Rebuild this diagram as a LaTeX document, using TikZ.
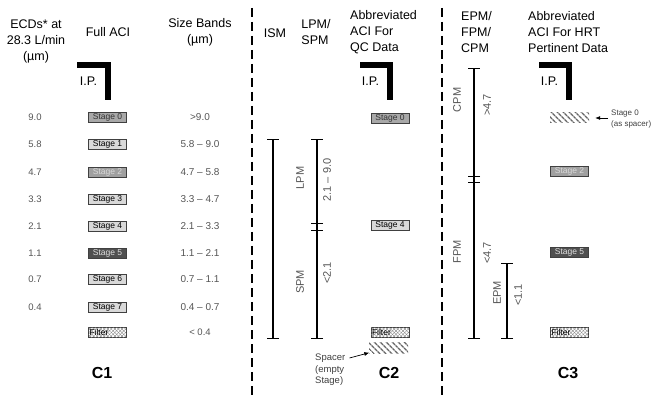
\documentclass[tikz,border=0pt]{standalone}
\usepackage{fontspec}
\setmainfont{Liberation Sans}
\usepackage{tikz}
\usetikzlibrary{arrows.meta,patterns.meta}
\definecolor{stzero}{HTML}{A8A8A8}
\definecolor{stpale}{HTML}{D9D9D9}
\definecolor{stmid}{HTML}{A0A0A0}
\definecolor{stdark}{HTML}{505050}
\definecolor{txtgray}{HTML}{555555}

\tikzset{
  hdr/.style={align=left,inner sep=0pt,font=\fontsize{12.5}{16}\selectfont},
  val/.style={text=txtgray,inner sep=0pt,font=\fontsize{9.5}{11}\selectfont},
  stagebox/.style={draw=black!75,line width=0.6pt,minimum width=38pt,minimum height=10pt,
    inner sep=0pt,font=\fontsize{8.5}{9}\selectfont},
  stagezero/.style={fill=stzero,text=black!80},
  stagepale/.style={fill=stpale,text=black},
  stagemid/.style={fill=stmid,text=black!15},
  stagedark/.style={fill=stdark,text=black!12},
  filterbox/.style={stagebox,text width=36pt,align=left,
    preaction={fill=white},pattern={Lines[angle=45,distance=2.5pt,line width=0.35pt]},pattern color=gray,
    postaction={pattern={Lines[angle=-45,distance=2.5pt,line width=0.35pt]},pattern color=gray}},
  spacerbox/.style={minimum width=39pt,minimum height=11pt,inner sep=0pt,
    pattern={Lines[angle=-45,distance=4pt,line width=1.4pt]},pattern color=black!60},
  ipbar/.style={line width=6pt,miter limit=10},
  iptext/.style={inner sep=0pt,font=\fontsize{12.5}{14}\selectfont},
  bar/.style={line width=2pt,arrows={Bar[width=12pt,line width=1.2pt]-Bar[width=12pt,line width=1.2pt]}},
  barlbl/.style={rotate=90,text=txtgray,inner sep=0pt,font=\fontsize{11}{13}\selectfont},
  divider/.style={line width=1.4pt,dash pattern=on 9pt off 5pt},
  collbl/.style={inner sep=0pt,font=\fontsize{16}{18}\bfseries\selectfont},
  note/.style={align=left,text=black!75,inner sep=0pt},
  ptr/.style={->,line width=0.7pt,>={Latex[length=5pt,width=4pt]}},
}

\begin{document}
\begin{tikzpicture}[x=1pt,y=-1pt]
\useasboundingbox (0,0) rectangle (656,398);

% column headings
\node[hdr,align=center] (ecdhdr) at (36,41) {ECDs* at\\28.3 L/min\\(µm)};
\node[hdr] (fullhdr) at (108,32) {Full ACI};
\node[hdr,align=center] (bandhdr) at (200,32) {Size Bands\\(µm)};
\node[hdr] (ismhdr) at (275,33) {ISM};
\node[hdr] (lpmhdr) at (316,32) {LPM/\\SPM};
\node[hdr,anchor=west] (qchdr) at (350,32) {Abbreviated\\ACI For\\QC Data};
\node[hdr,anchor=west] (pmhdr) at (461,32) {EPM/\\FPM/\\CPM};
\node[hdr,anchor=west] (hrthdr) at (528,32) {Abbreviated\\ACI For HRT\\Pertinent Data};

% dividers
\draw[divider] (252,8) -- (252,398);
\draw[divider] (442,8) -- (442,398);

% impactor inlets
\foreach \xl/\xr/\n in {77/107.5/1, 360/389.5/2, 539/568.5/3}{
  \draw[ipbar] (\xl,65.5) -- (\xr,65.5) -- (\xr,100);
  \node[iptext] (ip\n) at (\xr-19,81) {I.P.};
}

% C1: full impactor
\foreach \y/\ecd/\st/\band/\look in {
  117/9.0/0/{>9.0}/stagezero,
  144/5.8/1/{5.8 – 9.0}/stagepale,
  172/4.7/2/{4.7 – 5.8}/stagemid,
  199/3.3/3/{3.3 – 4.7}/stagepale,
  226/2.1/4/{2.1 – 3.3}/stagepale,
  253/1.1/5/{1.1 – 2.1}/stagedark,
  279/0.7/6/{0.7 – 1.1}/stagepale,
  307/0.4/7/{0.4 – 0.7}/stagepale}{
  \node[val] (ecd\st) at (35,\y) {\ecd};
  \node[stagebox,\look] (full\st) at (107.5,\y) {Stage \st};
  \node[val,font=\fontsize{10}{11}\selectfont] (band\st) at (200,\y) {\band};
}
\node[filterbox] (fullF) at (107.5,332) {Filter};
\node[val] (bandF) at (200,332) {< 0.4};
\node[collbl] (c1) at (102,373) {C1};

% C2: abbreviated for QC
\coordinate (ismtop) at (273,139);
\coordinate (ismbot) at (273,339);
\coordinate (lpmtop) at (317,139);
\coordinate (lpmbot) at (317,224);
\coordinate (spmtop) at (317,230);
\coordinate (spmbot) at (317,339);
\draw[bar] (ismtop) -- (ismbot);
\draw[bar] (lpmtop) -- (lpmbot);
\draw[line width=2pt] (lpmbot) -- (spmtop);
\draw[bar] (spmtop) -- (spmbot);
\node[barlbl] (lpm) at (300,178) {LPM};
\node[barlbl] (lpmrng) at (327,180) {2.1 – 9.0};
\node[barlbl] (spm) at (300,282) {SPM};
\node[barlbl] (spmrng) at (327,273) {<2.1};

\node[stagebox,stagezero] (qc0) at (390,118.5) {Stage 0};
\node[stagebox,stagepale] (qc4) at (390,225) {Stage 4};
\node[filterbox] (qcF) at (390,332) {Filter};
\node[spacerbox] (qcsp) at (388.5,347.5) {};
\node[note,font=\fontsize{9.5}{11.5}\selectfont,anchor=north west] (spacerlbl) at (315,354) {Spacer\\(empty\\Stage)};
\draw[ptr] ([shift={(4,4)}]spacerlbl.north east) -- ([shift={(1,-1)}]qcsp.south west);
\node[collbl] (c2) at (389,373) {C2};

% C3: abbreviated for HRT
\coordinate (cpmtop) at (474,68);
\coordinate (cpmbot) at (474,177);
\coordinate (fpmtop) at (474,182);
\coordinate (fpmbot) at (474,339);
\coordinate (epmtop) at (507,263);
\coordinate (epmbot) at (507,339);
\draw[bar] (cpmtop) -- (cpmbot);
\draw[line width=2pt] (cpmbot) -- (fpmtop);
\draw[bar] (fpmtop) -- (fpmbot);
\draw[bar] (epmtop) -- (epmbot);
\node[barlbl] (cpm) at (457,100) {CPM};
\node[barlbl] (cpmrng) at (487,105) {>4.7};
\node[barlbl] (fpm) at (457,252) {FPM};
\node[barlbl] (fpmrng) at (487,253) {<4.7};
\node[barlbl] (epm) at (497,293) {EPM};
\node[barlbl] (epmrng) at (518,295) {<1.1};

\node[spacerbox,minimum height=10pt] (hrt0) at (569.5,118) {};
\node[note,font=\fontsize{8}{10.5}\selectfont,anchor=west] (sp0lbl) at (611,119) {Stage 0\\(as spacer)};
\draw[ptr] ([xshift=-3pt]sp0lbl.west |- hrt0.east) -- ([xshift=6pt]hrt0.east);
\node[stagebox,stagemid] (hrt2) at (569.5,171) {Stage 2};
\node[stagebox,stagedark] (hrt5) at (569.5,252) {Stage 5};
\node[filterbox] (hrtF) at (569.5,332) {Filter};
\node[collbl] (c3) at (568,373) {C3};
\end{tikzpicture}
\end{document}
